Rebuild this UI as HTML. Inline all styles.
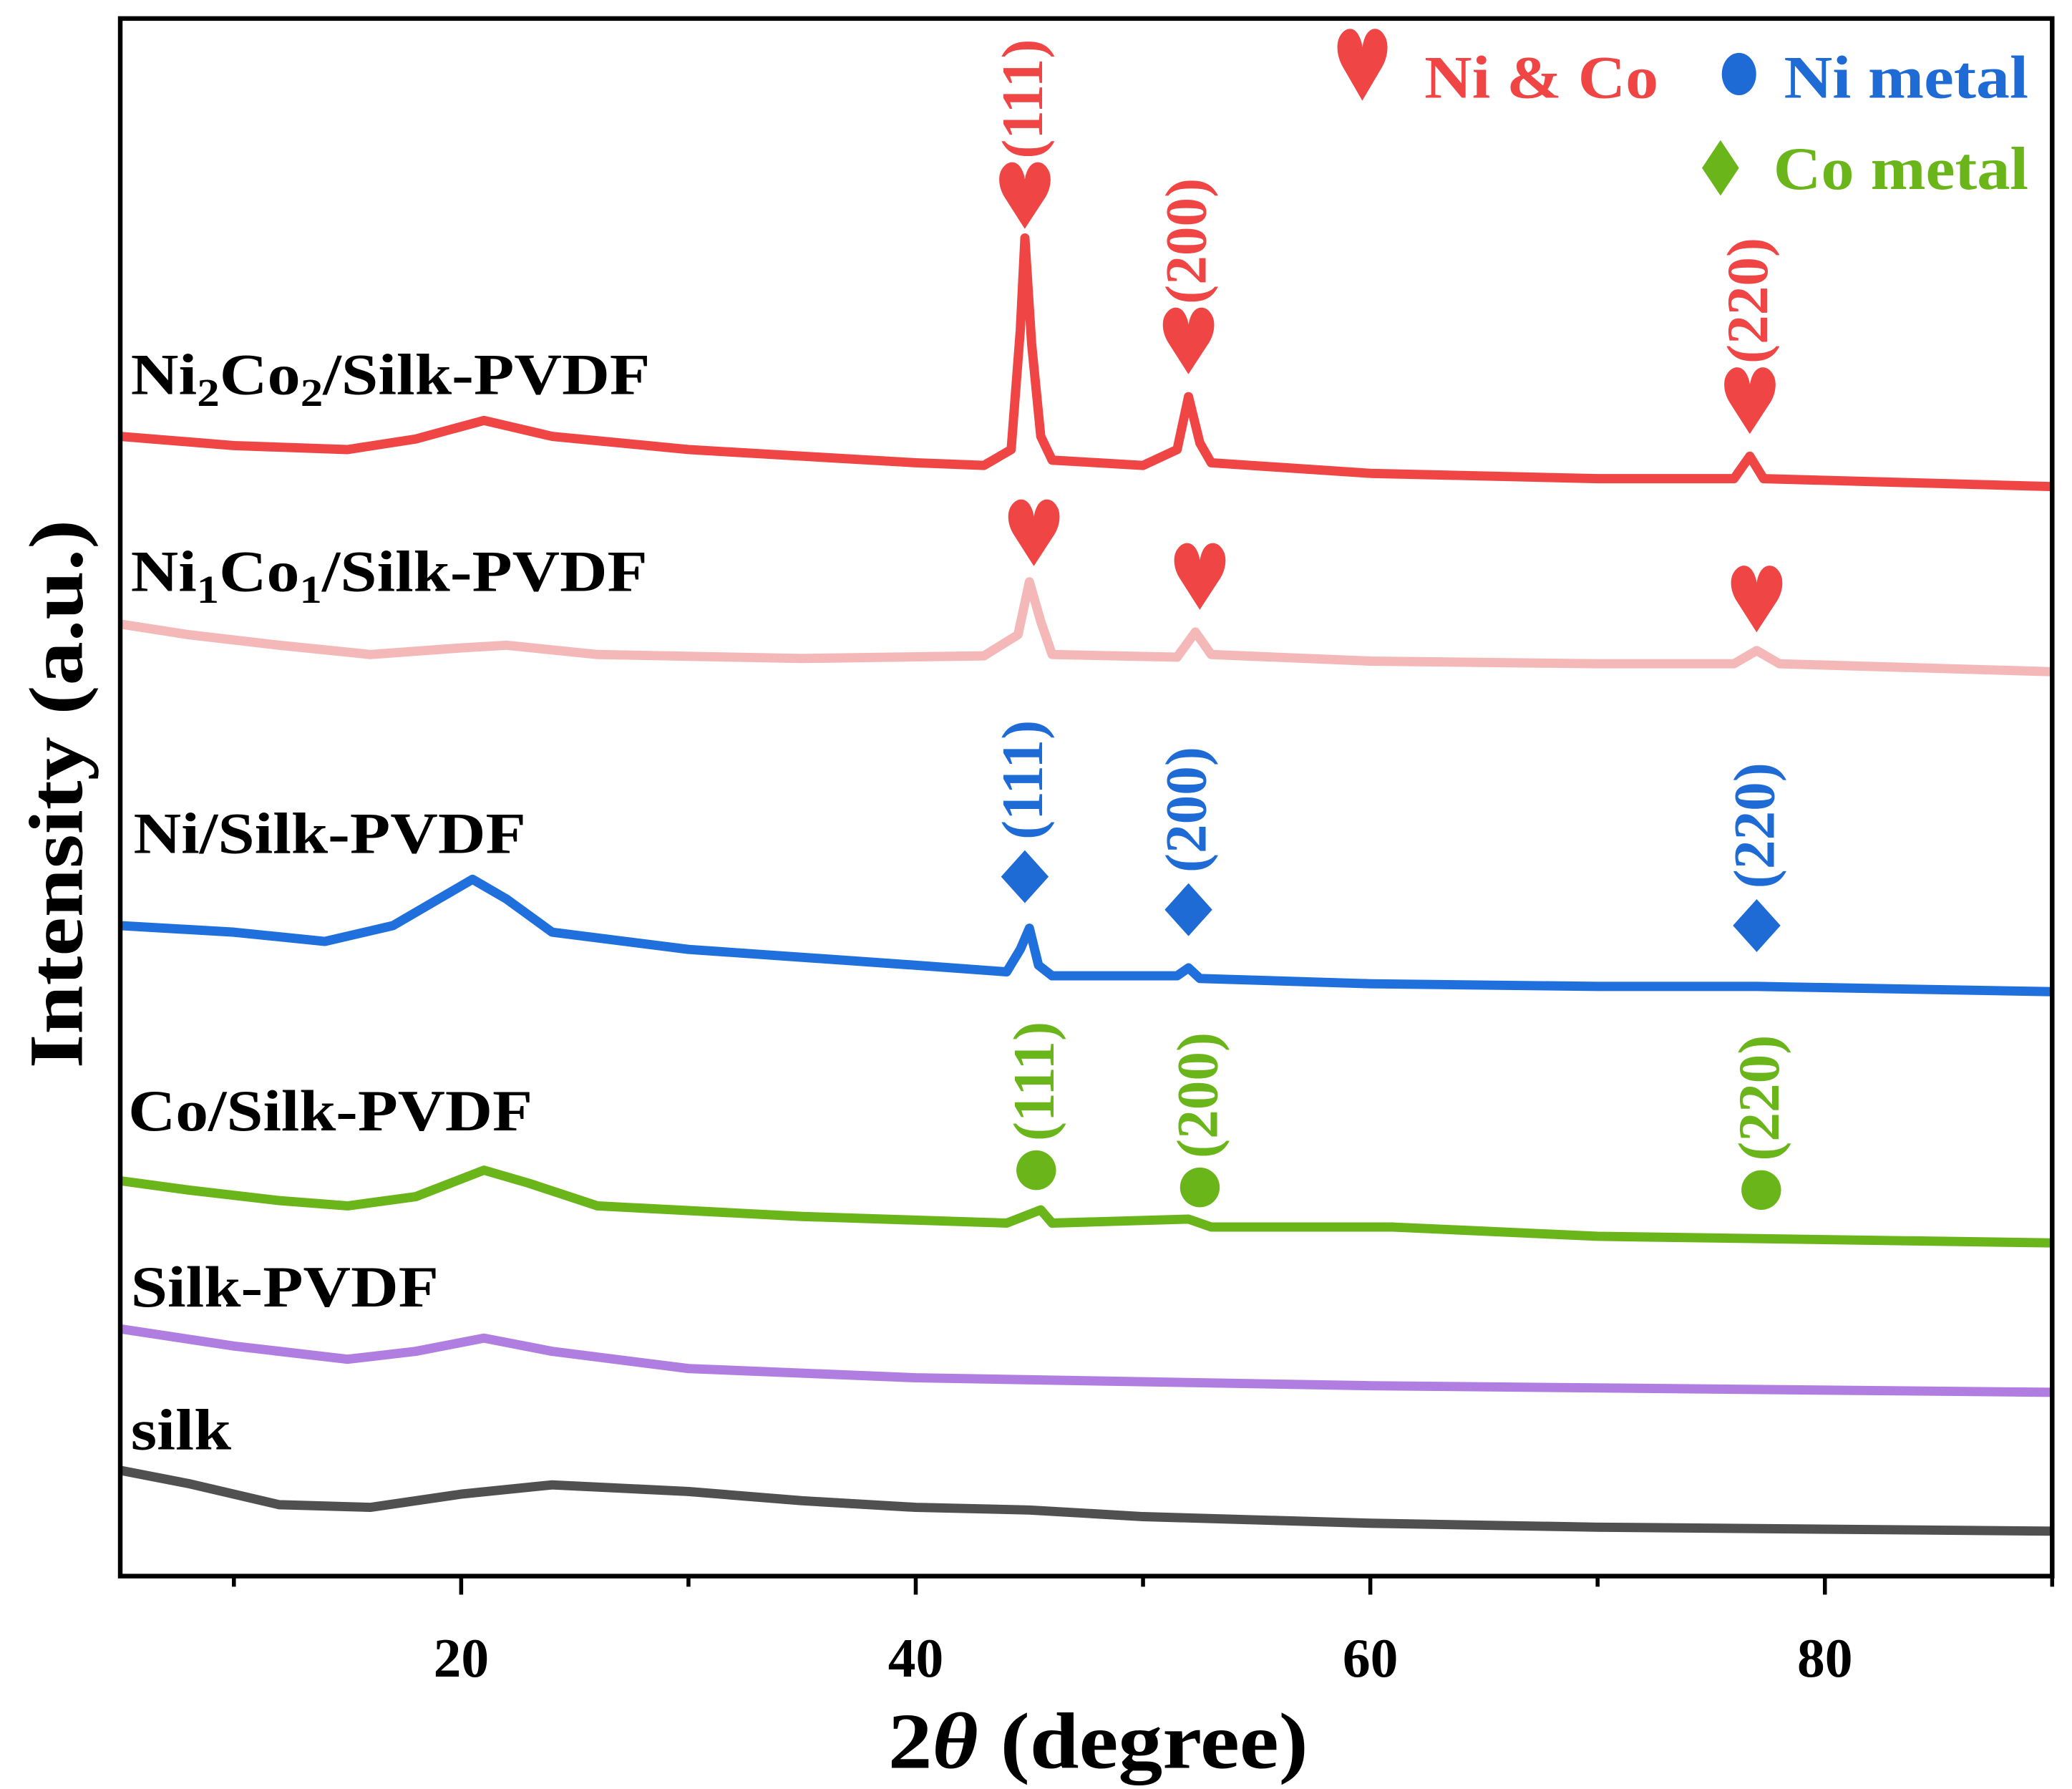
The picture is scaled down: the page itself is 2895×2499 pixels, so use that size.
<!DOCTYPE html>
<html><head><meta charset="utf-8"><style>
html,body{margin:0;padding:0;background:#fff;}
svg{display:block;}
text{font-family:"Liberation Serif",serif;font-weight:bold;}
</style></head><body>
<svg id="chart" width="2895" height="2499" viewBox="0 0 1568 1353" preserveAspectRatio="none" xmlns="http://www.w3.org/2000/svg">
<rect x="0" y="0" width="1568" height="1353" fill="#fff"/>
<g id="series"></g>
<g id="marks"></g>
<rect x="91" y="14" width="1462" height="1178" fill="none" stroke="#000" stroke-width="3.5"/>
<g id="ticks"></g>
<text x="672" y="1337" font-size="60" textLength="318" lengthAdjust="spacingAndGlyphs">2<tspan font-style="italic">θ</tspan> (degree)</text>
<text transform="translate(62,808) rotate(-90)" font-size="58" textLength="415" lengthAdjust="spacingAndGlyphs">Intensity (a.u.)</text>
<g>
<text x="1031" y="76" font-size="62" fill="#f04545" text-anchor="middle" style="font-family:'DejaVu Sans',sans-serif" transform="translate(1031,76) scale(0.85,1.2) translate(-1031,-76)">♥</text>
<text x="1078" y="74" font-size="46" fill="#f04545" textLength="177" lengthAdjust="spacingAndGlyphs">Ni &amp; Co</text>
<ellipse cx="1316" cy="56" rx="13" ry="16" fill="#1e6bd6"/>
<text x="1350" y="74" font-size="46" fill="#1e6bd6" textLength="185" lengthAdjust="spacingAndGlyphs">Ni metal</text>
<polygon points="1302,106 1316,127 1302,148 1288,127" fill="#6ab51a"/>
<text x="1342" y="143" font-size="46" fill="#6ab51a" textLength="193" lengthAdjust="spacingAndGlyphs">Co metal</text>
</g>
<g font-size="44">
<text x="99" y="298" textLength="393" lengthAdjust="spacingAndGlyphs">Ni<tspan font-size="30" dy="9">2</tspan><tspan dy="-9">Co</tspan><tspan font-size="30" dy="9">2</tspan><tspan dy="-9">/Silk-PVDF</tspan></text>
<text x="99" y="447" textLength="391" lengthAdjust="spacingAndGlyphs">Ni<tspan font-size="30" dy="9">1</tspan><tspan dy="-9">Co</tspan><tspan font-size="30" dy="9">1</tspan><tspan dy="-9">/Silk-PVDF</tspan></text>
<text x="101" y="645" textLength="297" lengthAdjust="spacingAndGlyphs">Ni/Silk-PVDF</text>
<text x="97" y="855" textLength="306" lengthAdjust="spacingAndGlyphs">Co/Silk-PVDF</text>
<text x="99" y="988" textLength="233" lengthAdjust="spacingAndGlyphs">Silk-PVDF</text>
<text x="99" y="1096" textLength="76" lengthAdjust="spacingAndGlyphs">silk</text>
</g>
</svg>
<script>
// x: 2θ (degree), y: intensity (a.u., offset stacked)
const xTicks = [20, 40, 60, 80];
const xMinorTicks = [10, 30, 50, 70, 90];
const ni2co2X = [5,10,15,18,21,24,30,40,43,44.2,44.6,44.8,45.1,45.5,46,50,51.5,52,52.5,53,60,70,76,76.7,77.3,90];
const ni2co2Y = [862,855,852,860,874,862,852,842,840,852,942,1012,932,862,844,840,852,892,857,842,834,830,830,847,830,824];
const ni1co1X = [5,8,12,16,20,22,26,35,43,44.5,45,45.5,46,51.5,52.3,53,60,70,76,77,78,90];
const ni1co1Y = [720,712,704,697,702,704,697,694,696,712,752,722,697,695,714,697,692,690,690,700,690,684];
const niX = [5,10,14,17,19,20.5,22,24,30,40,44,44.6,45,45.4,46,51.5,52,52.5,60,70,77,90];
const niY = [492,487,480,492,512,527,512,487,474,462,457,474,490,462,454,454,460,452,448,446,446,442];
const coX = [5,8,12,15,18,21,23,26,35,44,45.5,46,52,53,61,70,90];
const coY = [299,292,284,280,287,307,297,280,272,267,277,267,270,264,264,257,252];
const silkPvdfX = [5,10,15,18,21,24,30,40,60,90];
const silkPvdfY = [187,174,164,170,180,170,157,150,144,139];
const silkX = [5,8,12,16,20,24,30,35,40,45,50,60,70,90];
const silkY = [80,70,54,52,62,69,64,57,52,50,45,40,37,34];
const peakLabels = ["(111)","(200)","(220)"];
const redPeakX = [44.8,52,76.7];  const redPeakY = [1042,932,887];
const pinkPeakX = [45.2,52.5,77]; const pinkPeakY = [787,754,737];
const bluePeakX = [44.8,52,77];   const bluePeakY = [529,504,492];
const greenPeakX = [45.3,52.5,77.2]; const greenPeakY = [307,294,292];

const X0=91, X1=1553, Y0=1192, Y1=14;
const xMin=5, xMax=90, yMax=1178;
const xs = v => X0 + (v - xMin) / (xMax - xMin) * (X1 - X0);
const ys = v => Y0 - v / yMax * (Y0 - Y1);
const NS = "http://www.w3.org/2000/svg";
const mk = (t, a, p) => { const e = document.createElementNS(NS, t); for (const k in a) e.setAttribute(k, a[k]); p.appendChild(e); return e; };

const series = document.getElementById('series');
function drawSeries(X, Y, color, name) {
  const d = X.map((x, i) => (i ? 'L' : 'M') + xs(x).toFixed(1) + ',' + ys(Y[i]).toFixed(1)).join(' ');
  const p = mk('path', {d: d, fill: 'none', stroke: color, 'stroke-width': 7, 'stroke-linejoin': 'round'}, series);
  
  
}
drawSeries(silkX, silkY, '#505050', 'series-silk');
drawSeries(silkPvdfX, silkPvdfY, '#b07ee0', 'series-silk-pvdf');
drawSeries(coX, coY, '#6ab51a', 'series-co-silk-pvdf');
drawSeries(niX, niY, '#1f6fdc', 'series-ni-silk-pvdf');
drawSeries(ni1co1X, ni1co1Y, '#f5b8b8', 'series-ni1co1-silk-pvdf');
drawSeries(ni2co2X, ni2co2Y, '#f04545', 'series-ni2co2-silk-pvdf');

const marks = document.getElementById('marks');
function heart(x, y, color) {
  const cx = xs(x), cy = ys(y);
  const t = mk('text', {x: cx, y: cy + 20, 'font-size': 60, fill: color, 'text-anchor': 'middle', style: "font-family:'DejaVu Sans',sans-serif", transform: `translate(${cx},${cy}) scale(0.9,1.15) translate(${-cx},${-cy})`}, marks);
  t.textContent = '♥';
  
  
}
function diamond(x, y, color) {
  const cx = xs(x), cy = ys(y);
  const p = mk('polygon', {points: `${cx},${cy-20} ${cx+18},${cy} ${cx},${cy+20} ${cx-18},${cy}`, fill: color}, marks);
  
  
}
function circle(x, y, color) {
  const c = mk('circle', {cx: xs(x), cy: ys(y), r: 15, fill: color}, marks);
  
  
}
function label(x, y, txt, color) {
  const cx = xs(x) + 13, cy = ys(y);
  const t = mk('text', {x: cx, y: cy, 'font-size': 44, fill: color, transform: `rotate(-90 ${cx} ${cy})`}, marks);
  t.textContent = txt;
  
  
}
redPeakX.forEach((x, i) => { heart(x, redPeakY[i], '#f04545'); label(x, redPeakY[i] + 30, peakLabels[i], '#f04545'); });
pinkPeakX.forEach((x, i) => heart(x, pinkPeakY[i], '#f04545'));
bluePeakX.forEach((x, i) => { diamond(x, bluePeakY[i], '#1e6bd6'); label(x, bluePeakY[i] + 28, peakLabels[i], '#1e6bd6'); });
greenPeakX.forEach((x, i) => { circle(x, greenPeakY[i], '#6ab51a'); label(x, greenPeakY[i] + 22, peakLabels[i], '#6ab51a'); });

const ticks = document.getElementById('ticks');
xTicks.forEach(v => {
  const l = mk('line', {x1: xs(v), x2: xs(v), y1: Y0, y2: Y0 + 14, stroke: '#000', 'stroke-width': 3}, ticks);
  
  
  const t = mk('text', {x: xs(v), y: 1268, 'font-size': 42, 'text-anchor': 'middle'}, ticks);
  t.textContent = v;
  
  
});
xMinorTicks.forEach(v => {
  const l = mk('line', {x1: xs(v), x2: xs(v), y1: Y0, y2: Y0 + 8, stroke: '#000', 'stroke-width': 3}, ticks);
  
  
});
</script>
</body></html>
